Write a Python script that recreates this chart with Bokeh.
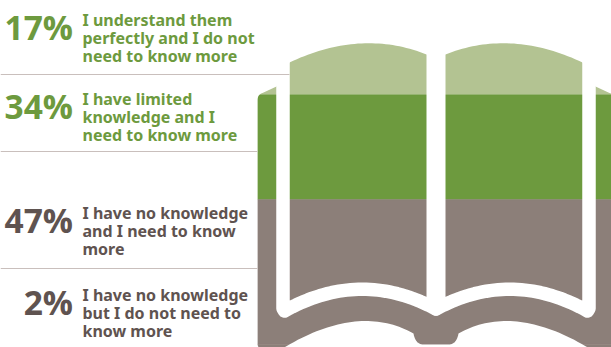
import numpy as np
from bokeh.plotting import figure
from bokeh.core.properties import value
from bokeh.embed import file_html
from bokeh.resources import INLINE

percents = [17, 34, 47, 2]
answers = [
    ["I understand them", "perfectly and I do not", "need to know more"],
    ["I have limited", "knowledge and I", "need to know more"],
    ["I have no knowledge", "and I need to know", "more"],
    ["I have no knowledge", "but I do not need to", "know more"],
]
text_colors = ["#6d9a3e", "#6d9a3e", "#5f5350", "#5f5350"]
band_colors = ["#b3c392", "#6d9a3e", "#8c7f79", "#8c7f79"]

W, H = 611, 347
p = figure(width=W, height=H, x_range=(0, W), y_range=(H, 0), toolbar_location=None,
           output_backend="svg", min_border=0, outline_line_color=None,
           background_fill_color="white", border_fill_color="white")
p.axis.visible = False
p.grid.visible = False
p.styles = {"position": "absolute", "left": "0px", "top": "0px"}

TOP, BOTTOM = 42.0, 350.0
cum = np.concatenate([[0], np.cumsum(percents)]) / sum(percents)
edges = TOP + cum * (BOTTOM - TOP)
p.quad(left=257, right=W, top=edges[:-1], bottom=edges[1:], fill_color=band_colors,
       line_color=band_colors, line_width=0.5)


def bez(a, c, b, n=40):
    t = np.linspace(0, 1, n)[:, None]
    a, c, b = map(np.array, (a, c, b))
    return (1 - t) ** 2 * a + 2 * t * (1 - t) * c + t ** 2 * b


def mirror(pts):
    out = np.array(pts, dtype=float)[::-1].copy()
    out[:, 0] = 871 - out[:, 0]
    return out


# white masks around the book silhouette
top_left = np.vstack([
    [[250, 347], [250, 0], [435.5, 0], [435.5, 54]],
    [[426, 54]],
    bez((426, 54), (361, 28), (289, 62)),
    [[276, 86], [262, 92.5]],
    bez((262, 92.5), (257, 94), (257, 100)),
    [[257, 347]],
])
top_right = mirror(top_left)
p.patches([top_left[:, 0], top_right[:, 0]], [top_left[:, 1], top_right[:, 1]],
          fill_color="white", line_color="white", line_width=0)

bottom_left = np.vstack([
    bez((282, 348), (358, 302), (413, 333)),
    bez((413, 333), (415, 344), (423, 344)),
    [[435.5, 344], [435.5, 348]],
])
bottom_right = mirror(bottom_left)
p.patches([bottom_left[:, 0], bottom_right[:, 0]], [bottom_left[:, 1], bottom_right[:, 1]],
          fill_color="white", line_color="white", line_width=0)
p.patch([250, 257, 259, 250], [340, 345, 348, 348], fill_color="white", line_color="white", line_width=0)

# white gutter around the pages
curve_l = bez((284, 310.5), (360, 268), (435.5, 308.5))
gx = np.concatenate([[282.5, 282.5], curve_l[:, 0]])
gy = np.concatenate([[40, 308], curve_l[:, 1]])
gr = mirror(np.column_stack([gx, gy]))
p.line(gx, gy, line_color="white", line_width=13.5, line_join="round", line_cap="round")
p.line(gr[:, 0], gr[:, 1], line_color="white", line_width=13.5, line_join="round", line_cap="round")
p.quad(left=426, right=445, top=30, bottom=303, fill_color="white", line_color=None)

# separators
p.segment([0, 0, 0], [74, 151, 268], [289, 257, 257], [74, 151, 268], line_color="#c9bfbc", line_width=1.2)

# percent labels and answers
first_baselines = [19, 98, 212, 294]
LEAD = 18
p.text(x=[72.5] * 4, y=[b + 7 for b in first_baselines], text=[f"{v}%" for v in percents],
       text_color=text_colors, text_font=value("Open Sans"), text_font_style="bold",
       text_font_size="33.5px", text_align="right", text_baseline="alphabetic")
xs, ys, ts, cs = [], [], [], []
for lines, base, col in zip(answers, first_baselines, text_colors):
    for i, s in enumerate(lines):
        xs.append(82); ys.append(base + i * LEAD); ts.append(s); cs.append(col)
p.text(x=xs, y=ys, text=ts, text_color=cs, text_font=value("Noto Sans"), text_font_style="bold",
       text_font_size="16px", text_align="left", text_baseline="alphabetic")

open("out.html", "w").write(file_html(p, INLINE))
